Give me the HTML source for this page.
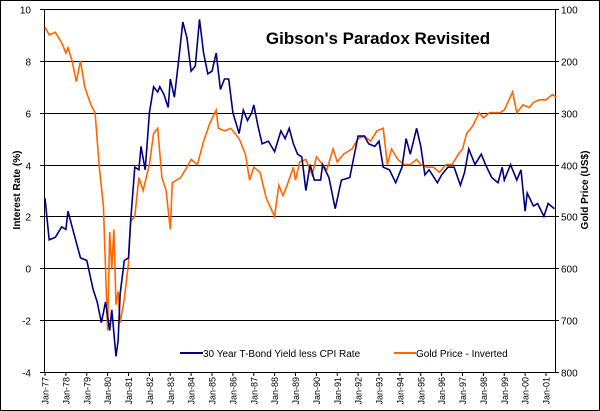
<!DOCTYPE html>
<html><head><meta charset="utf-8"><style>
body{margin:0;background:#fff}
svg{display:block;font-family:"Liberation Sans",Arial,sans-serif}
</style></head><body>
<svg id="chart" width="600" height="411">
<rect x="0.5" y="0.5" width="599" height="410" fill="#fff" stroke="#000"/>
<g id="grid"></g>
<g id="axes"></g>
<g id="series"></g>
<text x="378" y="44" text-anchor="middle" font-size="17" font-weight="bold">Gibson's Paradox Revisited</text>
<text transform="translate(20,190) rotate(-90)" text-anchor="middle" font-size="10" font-weight="bold">Interest Rate (%)</text>
<text transform="translate(289,190) rotate(-90)" text-anchor="middle" font-size="10" font-weight="bold" id="rtitle">Gold Price (US$)</text>
<g>
<line x1="180" y1="353" x2="203" y2="353" stroke="#000080" stroke-width="2"/>
<text x="203" y="357" font-size="10">30 Year T-Bond Yield less CPI Rate</text>
<line x1="394" y1="353" x2="416" y2="353" stroke="#ff6600" stroke-width="2"/>
<text x="416" y="357" font-size="10">Gold Price - Inverted</text>
</g>
</svg>
<script>
const rateTicks=[10,8,6,4,2,0,-2,-4];
const goldTicks=[100,200,300,400,500,600,700,800];
const yearLabels=['Jan-77','Jan-78','Jan-79','Jan-80','Jan-81','Jan-82','Jan-83','Jan-84','Jan-85','Jan-86','Jan-87','Jan-88','Jan-89','Jan-90','Jan-91','Jan-92','Jan-93','Jan-94','Jan-95','Jan-96','Jan-97','Jan-98','Jan-99','Jan-00','Jan-01'];
const bondDates=[77.0,77.2,77.5,77.8,78.0,78.1,78.3,78.5,78.7,79.0,79.3,79.5,79.7,79.9,80.1,80.2,80.4,80.5,80.6,80.8,81.0,81.1,81.3,81.5,81.6,81.8,82.0,82.2,82.4,82.5,82.7,82.9,83.0,83.2,83.4,83.6,83.8,84.0,84.2,84.4,84.6,84.8,85.0,85.2,85.4,85.6,85.8,86.0,86.3,86.5,86.7,86.9,87.0,87.2,87.4,87.7,88.0,88.3,88.5,88.7,88.9,89.1,89.3,89.5,89.7,89.9,90.2,90.3,90.6,90.9,91.2,91.6,91.8,92.0,92.3,92.5,92.8,93.0,93.2,93.5,93.8,94.1,94.3,94.5,94.8,95.0,95.2,95.4,95.8,96.0,96.3,96.6,96.9,97.1,97.3,97.6,97.9,98.1,98.4,98.7,98.9,99.0,99.3,99.6,99.8,100.0,100.1,100.4,100.6,100.9,101.1,101.4];
const bondRates=[2.7,1.1,1.2,1.6,1.5,2.2,1.6,1.0,0.4,0.3,-0.8,-1.3,-2.1,-1.3,-2.4,-1.6,-3.4,-2.8,-1.0,0.3,0.4,1.8,3.9,3.8,4.7,3.8,6.0,7.0,6.8,7.0,6.7,6.2,7.3,6.6,8.0,9.5,8.9,7.6,7.8,9.6,8.3,7.5,7.6,8.3,6.9,7.3,7.3,6.0,5.2,6.1,5.7,6.0,6.3,5.5,4.8,4.9,4.5,5.3,5.0,5.4,4.8,4.4,4.3,3.0,4.0,3.4,3.4,4.0,3.5,2.3,3.4,3.5,4.3,5.1,5.1,4.8,4.7,4.9,3.9,3.8,3.3,3.9,5.0,4.4,5.4,4.7,3.6,3.8,3.3,3.6,3.9,3.9,3.2,3.7,4.6,4.0,4.4,4.0,3.5,3.3,3.9,3.4,4.0,3.4,3.8,2.2,2.9,2.4,2.5,2.0,2.5,2.3];
const goldDates=[77.0,77.2,77.5,77.8,78.0,78.1,78.3,78.5,78.7,78.9,79.2,79.4,79.6,79.8,80.0,80.1,80.2,80.3,80.4,80.5,80.6,80.8,81.0,81.1,81.3,81.5,81.7,82.0,82.2,82.4,82.6,82.8,83.0,83.1,83.5,83.8,84.0,84.3,84.6,84.9,85.2,85.3,85.6,85.9,86.3,86.6,86.8,87.0,87.3,87.6,88.0,88.2,88.4,88.6,88.9,89.0,89.2,89.5,89.8,90.0,90.3,90.5,90.8,91.0,91.3,91.7,92.0,92.3,92.6,92.9,93.2,93.4,93.6,93.9,94.2,94.5,94.8,95.0,95.3,95.6,95.9,96.2,96.5,96.8,97.0,97.2,97.5,97.8,98.0,98.3,98.6,98.8,99.0,99.4,99.6,99.9,100.2,100.4,100.7,101.0,101.3,101.5];
const goldPrices=[135,150,145,165,185,175,200,240,200,250,285,300,405,480,720,530,600,525,670,645,705,660,590,510,500,425,450,400,340,330,425,450,525,435,425,405,390,400,355,320,295,330,335,330,350,380,430,405,415,465,500,440,460,440,405,430,395,390,420,385,400,410,370,395,380,370,350,345,355,335,330,400,370,390,400,400,390,400,405,405,415,400,400,380,370,340,325,300,310,300,300,300,295,260,300,285,290,280,275,275,265,270];

const L=44,R=555,T=9,B=372,NS='http://www.w3.org/2000/svg';
const xS=d=>L+1+(d-77)*(546-45)/24;
const yR=v=>T+(10-v)*(B-T)/14;
const yG=g=>T+(g-100)*(B-T)/700;
function mk(tag,attrs,parent){const e=document.createElementNS(NS,tag);for(const k in attrs)e.setAttribute(k,attrs[k]);parent.appendChild(e);return e;}
const grid=document.getElementById('grid'),axes=document.getElementById('axes'),ser=document.getElementById('series');
rateTicks.forEach(v=>{
  const y=Math.round(yR(v))+0.5;
  if(v<10&&v>-4){const g=mk('line',{x1:L,x2:R,y1:y,y2:y,stroke:'#000','stroke-width':1},grid);
  
  }
  mk('line',{x1:L-4,x2:L,y1:y,y2:y,stroke:'#000'},axes);
  const t=mk('text',{x:L-13,y:y+4,'text-anchor':'end','font-size':10},axes);t.textContent=v;
  
  
});
goldTicks.forEach(g=>{
  const y=Math.round(yG(g))+0.5;
  mk('line',{x1:R,x2:R+4,y1:y,y2:y,stroke:'#000'},axes);
  const t=mk('text',{x:R+6,y:y+4,'font-size':10},axes);t.textContent=g;
  
  
});
yearLabels.forEach((s,i)=>{
  const x=xS(77+i);
  mk('line',{x1:x,x2:x,y1:B,y2:B+4,stroke:'#000'},axes);
  const t=mk('text',{transform:`translate(${x+3.5},${B+5}) rotate(-90)`,'text-anchor':'end','font-size':9},axes);t.textContent=s;
  
  
});
const frame=mk('rect',{x:L+0.5,y:T+0.5,width:R-L,height:B-T,fill:'none',stroke:'#000','stroke-width':1},axes);


document.getElementById('rtitle').setAttribute('transform',`translate(${R+33},190) rotate(-90)`);
const gp=mk('polyline',{points:goldDates.map((d,i)=>xS(d).toFixed(1)+','+yG(goldPrices[i]).toFixed(1)).join(' '),fill:'none',stroke:'#ff6600','stroke-width':1.6},ser);


const bp=mk('polyline',{points:bondDates.map((d,i)=>xS(d).toFixed(1)+','+yR(bondRates[i]).toFixed(1)).join(' '),fill:'none',stroke:'#000080','stroke-width':1.6},ser);


</script>
</body></html>
